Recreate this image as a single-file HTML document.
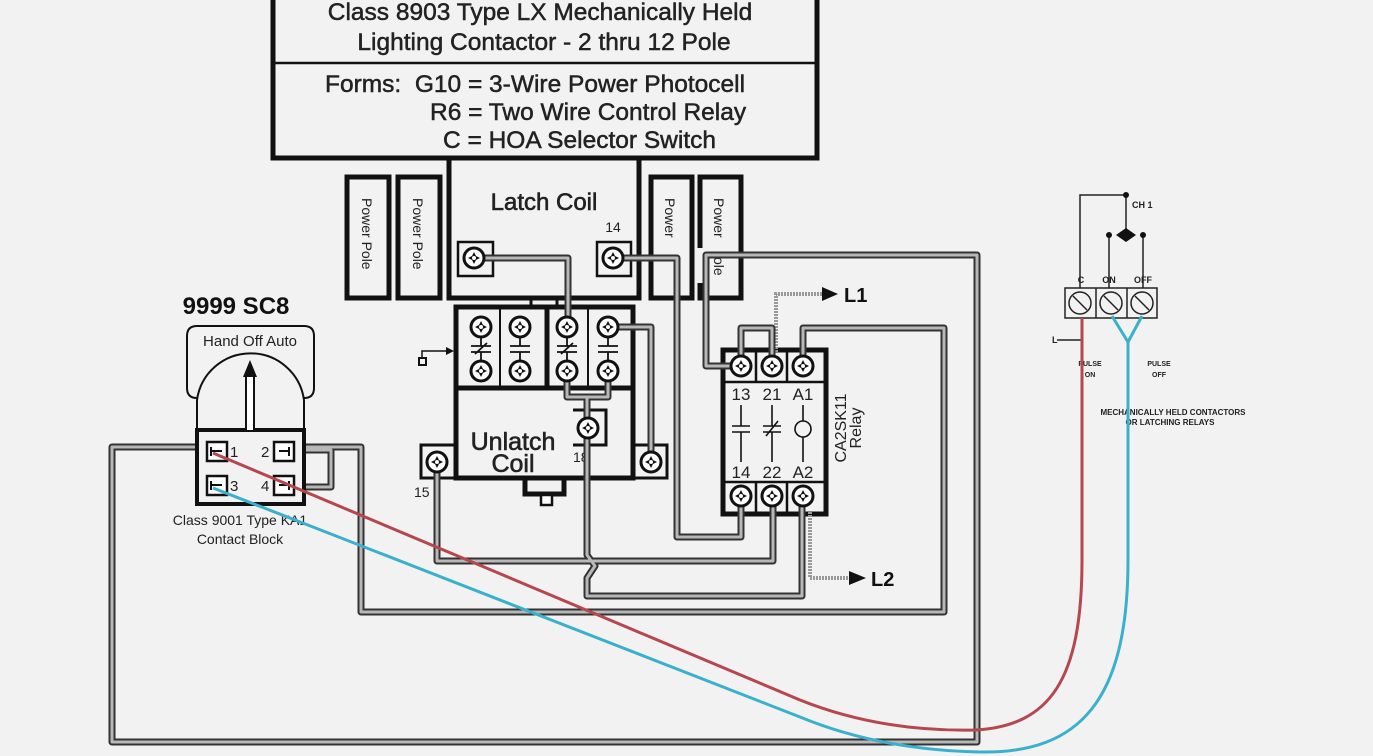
<!DOCTYPE html>
<html><head><meta charset="utf-8"><style>
html,body{margin:0;padding:0;background:#f2f2f2;}
svg{display:block;font-family:"Liberation Sans",Arial,sans-serif;}
</style></head><body>
<svg width="1373" height="756" viewBox="0 0 1373 756" xmlns="http://www.w3.org/2000/svg">
<defs>
<g id="scr"><circle r="10" fill="#fff" stroke="#111" stroke-width="3"/><path d="M0,-6L2,-2L6,0L2,2L0,6L-2,2L-6,0L-2,-2Z" fill="#111"/><circle r="2" fill="#fff"/></g>
</defs>
<rect width="1373" height="756" fill="#f2f2f2"/>

<!-- top box -->
<path d="M273,0V158H817V0" fill="none" stroke="#111" stroke-width="5"/>
<line x1="273" y1="63" x2="817" y2="63" stroke="#111" stroke-width="2.5"/>
<g font-size="24.5" fill="#222" stroke="#222" stroke-width="0.5">
<text x="540" y="20" text-anchor="middle">Class 8903 Type LX Mechanically Held</text>
<text x="544" y="50" text-anchor="middle">Lighting Contactor - 2 thru 12 Pole</text>
<text x="325" y="92" xml:space="preserve">Forms:  G10 = 3-Wire Power Photocell</text>
<text x="430" y="120">R6 = Two Wire Control Relay</text>
<text x="443" y="148">C = HOA Selector Switch</text>
</g>

<!-- power poles -->
<g fill="none" stroke="#111" stroke-width="5">
<rect x="347" y="177" width="42" height="121"/>
<rect x="398" y="177" width="42" height="121"/>
<rect x="651" y="177" width="41" height="121"/>
<path d="M700,248V177H741V298H700V283"/>
</g>
<g font-size="14" fill="#222">
<text transform="translate(362,198) rotate(90)">Power Pole</text>
<text transform="translate(413,198) rotate(90)">Power Pole</text>
<text transform="translate(665,198) rotate(90)">Power</text>
<text transform="translate(714,198) rotate(90)">Power</text>
<text transform="translate(714,257) rotate(90)">ole</text>
</g>

<!-- latch coil -->
<path d="M449,158V298H639V158" fill="none" stroke="#111" stroke-width="5"/>
<text x="544" y="210" font-size="24" text-anchor="middle" fill="#222" stroke="#222" stroke-width="0.6">Latch Coil</text>
<text x="613" y="232" font-size="14" text-anchor="middle" fill="#222">14</text>
<rect x="458" y="242" width="35" height="34" fill="none" stroke="#111" stroke-width="2.5"/>
<rect x="597" y="242" width="34" height="34" fill="none" stroke="#111" stroke-width="2.5"/>
<path d="M531,298V307M557,298V307" stroke="#111" stroke-width="3"/>

<!-- contact block -->
<rect x="456" y="307" width="177" height="81" fill="none" stroke="#111" stroke-width="5"/>
<path d="M500,309V386M588,309V386" stroke="#111" stroke-width="2"/>
<path d="M547,309V386" stroke="#111" stroke-width="5"/>
<g stroke="#111" stroke-width="1.8" fill="none">
<path d="M481,337V346M471,346H491M471,352H491M481,352V361M475,354L487,343"/>
<path d="M520,337V346M510,346H530M510,352H530M520,352V361"/>
<path d="M567,337V346M557,346H577M557,352H577M567,352V361M561,354L573,343"/>
<path d="M608,337V346M598,346H618M598,352H618M608,352V361"/>
</g>
<path d="M422,358V351H436M436,351L448,351" stroke="#111" stroke-width="1.5" fill="none"/>
<path d="M446,347L454,351L446,355Z" fill="#111"/>
<rect x="419" y="358" width="7" height="7" fill="none" stroke="#111" stroke-width="2"/>

<!-- unlatch coil -->
<path d="M456,388V478H633V388" fill="none" stroke="#111" stroke-width="5"/>
<text x="513" y="450" font-size="25" text-anchor="middle" fill="#222" stroke="#222" stroke-width="0.6">Unlatch</text>
<text x="513" y="472" font-size="25" text-anchor="middle" fill="#222" stroke="#222" stroke-width="0.6">Coil</text>
<text x="573" y="462" font-size="14" fill="#222">18</text>
<path d="M525,478V494H564V478" fill="none" stroke="#111" stroke-width="5"/>
<rect x="541" y="495" width="11" height="10" fill="#fff" stroke="#111" stroke-width="2.5"/>
<path d="M573,410H606V445H573" fill="none" stroke="#111" stroke-width="3"/>
<path d="M456,445H421V478H456" fill="none" stroke="#111" stroke-width="3"/>
<path d="M633,445H667V478H633" fill="none" stroke="#111" stroke-width="3"/>
<text x="414" y="497" font-size="14" fill="#222">15</text>

<!-- relay -->
<rect x="723" y="350" width="103" height="164" fill="none" stroke="#111" stroke-width="5"/>
<path d="M725,382H824M725,482H824M756,352V382M787,352V382M756,482V512M787,482V512" stroke="#111" stroke-width="2.5"/>
<g font-size="17" fill="#222" text-anchor="middle">
<text x="741" y="400">13</text><text x="772" y="400">21</text><text x="803" y="400">A1</text>
<text x="741" y="478">14</text><text x="772" y="478">22</text><text x="803" y="478">A2</text>
</g>
<g stroke="#111" stroke-width="1.6" fill="none">
<path d="M741,405V426M732,426H750M732,432H750M741,432V462"/>
<path d="M772,405V426M763,426H781M763,432H781M772,432V462M766,436L778,421"/>
<path d="M803,405V421M803,437V462"/><circle cx="803" cy="429" r="8"/>
</g>
<text transform="translate(846,428) rotate(-90)" font-size="16" fill="#222" text-anchor="middle">CA2SK11</text>
<text transform="translate(861,428) rotate(-90)" font-size="16" fill="#222" text-anchor="middle">Relay</text>

<!-- hatched L1/L2 -->
<path d="M776,352V294H825M810,512V578H853" fill="none" stroke="#999" stroke-width="4" stroke-dasharray="2 1"/>
<path d="M822,287L838,294L822,301Z M849,571L866,578L849,585Z" fill="#111"/>
<text x="844" y="302" font-size="20" font-weight="bold" fill="#111">L1</text>
<text x="871" y="586" font-size="20" font-weight="bold" fill="#111">L2</text>

<!-- wires -->
<g fill="none" stroke-linejoin="round">
<g stroke="#333" stroke-width="7">
<path d="M474,258H568V327"/>
<path d="M613,258H677V537H741V496"/>
<path d="M608,327H651V462"/>
<path d="M567,371V397H608V371M587,397V428"/>
<path d="M587,428V555L595,566L587,578V596H802V496"/>
<path d="M437,462V561H773V496"/>
<path d="M741,366H706V255H977V742H112V447H213"/>
<path d="M741,366V328H772V366"/>
<path d="M803,366V328H944V612H361V447H283"/>
<path d="M283,450H331V487H283"/>
</g>
<g stroke="#b8b8b8" stroke-width="3">
<path d="M474,258H568V327"/>
<path d="M613,258H677V537H741V496"/>
<path d="M608,327H651V462"/>
<path d="M567,371V397H608V371M587,397V428"/>
<path d="M587,428V555L595,566L587,578V596H802V496"/>
<path d="M437,462V561H773V496"/>
<path d="M741,366H706V255H977V742H112V447H213"/>
<path d="M741,366V328H772V366"/>
<path d="M803,366V328H944V612H361V447H283"/>
<path d="M283,450H331V487H283"/>
</g>
</g>

<!-- screws -->
<use href="#scr" x="474" y="258"/><use href="#scr" x="613" y="258"/>
<use href="#scr" x="481" y="327"/><use href="#scr" x="520" y="327"/><use href="#scr" x="567" y="327"/><use href="#scr" x="608" y="327"/>
<use href="#scr" x="481" y="371"/><use href="#scr" x="520" y="371"/><use href="#scr" x="567" y="371"/><use href="#scr" x="608" y="371"/>
<use href="#scr" x="588" y="428"/><use href="#scr" x="437" y="462"/><use href="#scr" x="651" y="462"/>
<use href="#scr" x="741" y="366"/><use href="#scr" x="772" y="366"/><use href="#scr" x="803" y="366"/>
<use href="#scr" x="741" y="496"/><use href="#scr" x="772" y="496"/><use href="#scr" x="803" y="496"/>

<!-- HOA switch -->
<text x="236" y="314" font-size="24" font-weight="bold" text-anchor="middle" fill="#111">9999 SC8</text>
<path d="M197,398 Q187,398 187,388 V336 Q187,326 197,326 H304 Q314,326 314,336 V388 Q314,398 304,398" fill="none" stroke="#111" stroke-width="2"/>
<path d="M197,430 V400 A54,54 0 0 1 304,400 V430" fill="#f2f2f2" stroke="#111" stroke-width="2"/>
<text x="250" y="346" font-size="15" text-anchor="middle" fill="#222">Hand Off Auto</text>
<rect x="197" y="430" width="107" height="74" fill="#f2f2f2" stroke="#111" stroke-width="4"/>
<path d="M246,430V375H254V430" fill="#fff" stroke="#111" stroke-width="2"/>
<path d="M243,377L250,360L257,377Z" fill="#111"/>
<g fill="#fff" stroke="#111" stroke-width="2.5">
<rect x="207" y="442" width="20" height="19"/><rect x="274" y="442" width="20" height="19"/>
<rect x="207" y="476" width="20" height="19"/><rect x="274" y="476" width="20" height="19"/>
</g>
<g stroke="#111" stroke-width="2"><path d="M211,447V456M212,451H222M279,451H289M289,447V456M211,481V490M212,485H222M279,485H289M289,481V490"/></g>
<g font-size="15" fill="#222"><text x="230" y="457">1</text><text x="261" y="457">2</text><text x="230" y="491">3</text><text x="261" y="491">4</text></g>
<text x="240" y="525" font-size="14" text-anchor="middle" fill="#222">Class 9001 Type KA1</text>
<text x="240" y="544" font-size="14" text-anchor="middle" fill="#222">Contact Block</text>

<!-- right mini diagram -->
<g stroke="#222" stroke-width="1.5" fill="none">
<path d="M1080,288V195H1126V235M1109,288V235M1143,288V235M1057,340H1081"/>
<rect x="1065" y="288" width="92" height="30"/>
<path d="M1096,288V318M1127,288V318"/>
<circle cx="1080" cy="303" r="11"/><circle cx="1111" cy="303" r="11"/><circle cx="1142" cy="303" r="11"/>
<path d="M1073,296L1087,310M1104,296L1118,310M1135,296L1149,310"/>
</g>
<path d="M1116,235L1126,228L1136,235L1126,242Z" fill="#111"/>
<g fill="#111"><circle cx="1126" cy="195" r="3"/><circle cx="1109" cy="235" r="3"/><circle cx="1143" cy="235" r="3"/></g>
<g font-size="9" fill="#222" font-weight="bold">
<text x="1132" y="208">CH 1</text>
<text x="1081" y="283" text-anchor="middle">C</text><text x="1109" y="283" text-anchor="middle">ON</text><text x="1143" y="283" text-anchor="middle">OFF</text>
<text x="1052" y="343">L</text>
<text x="1090" y="366" text-anchor="middle" font-size="7">PULSE</text><text x="1090" y="377" text-anchor="middle" font-size="7">ON</text>
<text x="1159" y="366" text-anchor="middle" font-size="7">PULSE</text><text x="1159" y="377" text-anchor="middle" font-size="7">OFF</text>
<text x="1173" y="415" text-anchor="middle" font-size="8">MECHANICALLY HELD CONTACTORS</text>
<text x="1170" y="425" text-anchor="middle" font-size="8">OR LATCHING RELAYS</text>
</g>

<!-- red / blue wires -->
<path d="M213,453 L800,700 Q880,732 975,730 C1050,726 1082,680 1082,560 V318" fill="none" stroke="#b5474e" stroke-width="3"/>
<path d="M213,488 L800,717 Q880,750 980,752 C1080,754 1128,700 1128,560 V342 L1112,316 M1128,342 L1142,316" fill="none" stroke="#3ab0cc" stroke-width="3"/>
</svg>
</body></html>
